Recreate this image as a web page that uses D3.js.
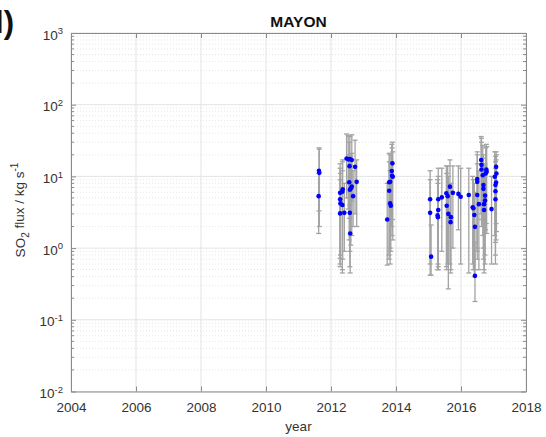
<!DOCTYPE html>
<html>
<head>
<meta charset="utf-8">
<script src="https://cdn.jsdelivr.net/npm/d3@7"></script>
<style>
  body { margin: 0; background: #fff; }
  text { font-family: "Liberation Sans", Arial, sans-serif; }
</style>
</head>
<body>
<script>
// MAYON SO2 flux
var years = [
  2011.63, 2011.64, 2011.62,
  2012.28, 2012.28, 2012.29, 2012.28, 2012.35, 2012.36, 2012.35, 2012.41,
  2012.48, 2012.53, 2012.58, 2012.57, 2012.56, 2012.58, 2012.61, 2012.64,
  2012.58, 2012.59, 2012.68, 2012.74, 2012.79, 2012.64,
  2013.89, 2013.87, 2013.88, 2013.90, 2013.82, 2013.79, 2013.79, 2013.82, 2013.84, 2013.73,
  2015.05, 2015.05, 2015.08, 2015.30, 2015.30, 2015.28, 2015.29, 2015.41, 2015.55, 2015.56,
  2015.59, 2015.61, 2015.66, 2015.69, 2015.68, 2015.75, 2015.92, 2015.99,
  2016.24, 2016.36, 2016.38, 2016.41, 2016.43, 2016.43, 2016.50, 2016.50, 2016.50, 2016.55,
  2016.62, 2016.63, 2016.63, 2016.67, 2016.69, 2016.69, 2016.71, 2016.71, 2016.74, 2016.74,
  2016.76, 2016.78, 2016.79, 2016.94,
  2017.04, 2017.06, 2017.06, 2017.06, 2017.08, 2017.09, 2017.08
];
var flux = [
  12.0, 11.2, 5.3,
  5.9, 4.8, 4.2, 3.05, 6.1, 6.6, 4.0, 3.1,
  17.8, 17.3, 17.5, 13.9, 8.3, 6.5, 6.8, 7.2,
  3.1, 1.6, 5.3, 13.6, 8.4, 16.9,
  15.2, 11.9, 10.2, 9.9, 8.4, 8.3, 6.3, 4.2, 3.9, 2.5,
  4.8, 3.1, 0.76, 4.8, 3.4, 2.86, 2.7, 5.1, 5.8, 3.9,
  5.3, 3.0, 7.2, 2.7, 2.3, 5.9, 5.7, 5.2,
  5.5, 3.7, 3.6, 2.9, 1.98, 0.41, 9.2, 8.4, 5.5, 4.1,
  16.9, 14.5, 12.5, 10.4, 7.6, 6.7, 4.1, 3.4, 5.4, 4.6,
  11.0, 12.5, 11.6, 3.5,
  9.9, 7.6, 6.2, 4.8, 13.6, 11.0, 8.2
];
var fluxLow = [
  3.3, 2.0, 1.6,
  0.72, 0.6, 0.8, 0.55, 0.5, 0.7, 0.45, 0.9,
  5.0, 3.5, 4.0, 2.6, 1.3, 0.9, 1.1, 1.5,
  0.55, 0.45, 2.0, 3.0, 2.0, 4.5,
  2.5, 2.0, 1.5, 1.3, 1.0, 0.8, 0.7, 0.6, 0.9, 0.58,
  0.42, 0.6, 0.42, 0.5, 0.55, 0.5, 0.6, 0.9, 0.55, 0.5,
  0.6, 0.27, 0.6, 0.5, 0.45, 1.0, 1.8, 0.6,
  0.45, 0.6, 0.5, 0.4, 0.5, 0.18, 1.0, 0.9, 0.7, 0.5,
  3.0, 2.5, 2.0, 1.5, 1.0, 0.7, 0.45, 0.5, 0.8, 0.6,
  1.8, 2.2, 1.6, 0.6,
  1.5, 1.2, 0.8, 0.6, 2.2, 1.7, 1.3
];
var fluxHigh = [
  25, 24, 11,
  15, 13, 11, 9, 16, 17, 12, 8,
  39, 37, 36, 30, 20, 18, 19, 21,
  10, 6, 12, 32, 17, 38,
  30, 28, 25, 22, 20, 21, 16, 12, 11, 8,
  12, 9, 2.1, 13, 10, 9, 8, 13, 14, 11,
  14, 10, 17, 8, 7, 14, 14, 13,
  13, 10, 9, 8, 6, 1.2, 22, 20, 15, 12,
  36, 34, 30, 27, 20, 18, 12, 10, 15, 14,
  25, 28, 26, 10,
  22, 19, 16, 13, 22, 20, 17
];
var xTicks = [2004, 2006, 2008, 2010, 2012, 2014, 2016, 2018];
var yExp = [-2, -1, 0, 1, 2, 3];

var data = years.map((d, i) => ({year: d, v: flux[i], lo: fluxLow[i], hi: fluxHigh[i]}));

var margin = {top: 33, right: 20, bottom: 45.5, left: 71};
var width = 546 - margin.left - margin.right;
var height = 437 - margin.top - margin.bottom;

var svg = d3.select("body").append("svg")
    .attr("width", 546)
    .attr("height", 437);

var g = svg.append("g")
    .attr("transform", "translate(" + margin.left + "," + margin.top + ")");

var x = d3.scaleLinear().domain([2004, 2018]).range([0, width]);
var y = d3.scaleLog().domain([0.01, 1000]).range([height, 0]);

var yMajor = yExp.map((e) => Math.pow(10, e));
var yMinor = [];
yExp.slice(0, -1).forEach((e) => {
    for (var k = 2; k <= 9; k++) yMinor.push(k * Math.pow(10, e));
});

// grid
g.append("g").selectAll("line").data(yMinor).enter().append("line")
    .attr("x1", 0).attr("x2", width)
    .attr("y1", (d) => y(d)).attr("y2", (d) => y(d))
    .attr("stroke", "#e6e6e6").attr("stroke-dasharray", "1,2");
g.append("g").selectAll("line").data(yMajor).enter().append("line")
    .attr("x1", 0).attr("x2", width)
    .attr("y1", (d) => y(d)).attr("y2", (d) => y(d))
    .attr("stroke", "#e3e3e3");
g.append("g").selectAll("line").data(xTicks).enter().append("line")
    .attr("x1", (d) => x(d)).attr("x2", (d) => x(d))
    .attr("y1", 0).attr("y2", height)
    .attr("stroke", "#e3e3e3");

// error bars
var eb = g.append("g").attr("stroke", "#a3a3a3").attr("stroke-width", 1.3);
data.forEach((d) => {
    var cx = x(d.year);
    eb.append("line").attr("x1", cx).attr("x2", cx).attr("y1", y(d.lo)).attr("y2", y(d.hi));
    eb.append("line").attr("x1", cx - 2.5).attr("x2", cx + 2.5).attr("y1", y(d.lo)).attr("y2", y(d.lo));
    eb.append("line").attr("x1", cx - 2.5).attr("x2", cx + 2.5).attr("y1", y(d.hi)).attr("y2", y(d.hi));
});

// points
g.append("g").selectAll("circle").data(data).enter().append("circle")
    .attr("cx", (d) => x(d.year))
    .attr("cy", (d) => y(d.v))
    .attr("r", 2.3)
    .attr("fill", "#0000ff");

// axes
var axisColor = "#8a8a8a";
var textColor = "#333";

function styleAxis(sel) {
    sel.select(".domain").attr("stroke", axisColor);
    sel.selectAll(".tick line").attr("stroke", axisColor);
    sel.selectAll(".tick text").attr("fill", textColor).attr("font-size", "13.5px")
        .attr("font-family", "'Liberation Sans', Arial, sans-serif");
}

g.append("g")
    .attr("transform", "translate(0," + height + ")")
    .call(d3.axisBottom(x).tickValues(xTicks).tickFormat(d3.format("d"))
        .tickSizeInner(-5).tickSizeOuter(0).tickPadding(11))
    .call(styleAxis);
g.append("g")
    .call(d3.axisTop(x).tickValues(xTicks).tickFormat("")
        .tickSizeInner(-5).tickSizeOuter(0))
    .call(styleAxis);

// minor y ticks
[0, width].forEach((px) => {
    var dir = px === 0 ? 1 : -1;
    g.append("g").selectAll("line").data(yMinor).enter().append("line")
        .attr("x1", px).attr("x2", px + dir * 3)
        .attr("y1", (d) => y(d)).attr("y2", (d) => y(d))
        .attr("stroke", axisColor);
});

var leftAxis = g.append("g")
    .call(d3.axisLeft(y).tickValues(yMajor).tickFormat("")
        .tickSizeInner(-5).tickSizeOuter(0).tickPadding(8))
    .call(styleAxis);
leftAxis.selectAll(".tick text")
    .attr("x", -8)
    .attr("dy", "0.45em")
    .attr("text-anchor", "end")
    .each(function(d) {
        var t = d3.select(this);
        t.append("tspan").text("10");
        t.append("tspan").attr("dy", "-0.55em").attr("font-size", "9.5px")
            .text(String(Math.round(Math.log10(d))));
    });

g.append("g")
    .attr("transform", "translate(" + width + ",0)")
    .call(d3.axisRight(y).tickValues(yMajor).tickFormat("")
        .tickSizeInner(-5).tickSizeOuter(0))
    .call(styleAxis);

// title and labels
svg.append("text")
    .attr("x", margin.left + width / 2)
    .attr("y", 26.5)
    .attr("text-anchor", "middle")
    .attr("font-size", "15.5px")
    .attr("font-weight", "bold")
    .attr("fill", "#111")
    .text("MAYON");

svg.append("text")
    .attr("x", margin.left + width / 2)
    .attr("y", 431)
    .attr("text-anchor", "middle")
    .attr("font-size", "13.5px")
    .attr("fill", textColor)
    .text("year");

var yl = svg.append("text")
    .attr("transform", "translate(25,210) rotate(-90)")
    .attr("text-anchor", "middle")
    .attr("font-size", "13.5px")
    .attr("fill", textColor);
yl.append("tspan").text("SO");
yl.append("tspan").attr("font-size", "10px").attr("dy", "0.4em").text("2");
yl.append("tspan").attr("dy", "-0.4em").text(" flux / kg s");
yl.append("tspan").attr("font-size", "10px").attr("dy", "-0.55em").text("-1");

svg.append("text")
    .attr("x", 14)
    .attr("y", 32.5)
    .attr("text-anchor", "end")
    .attr("font-size", "31px")
    .attr("font-weight", "bold")
    .attr("fill", "#111")
    .text("l)");
</script>
</body>
</html>
